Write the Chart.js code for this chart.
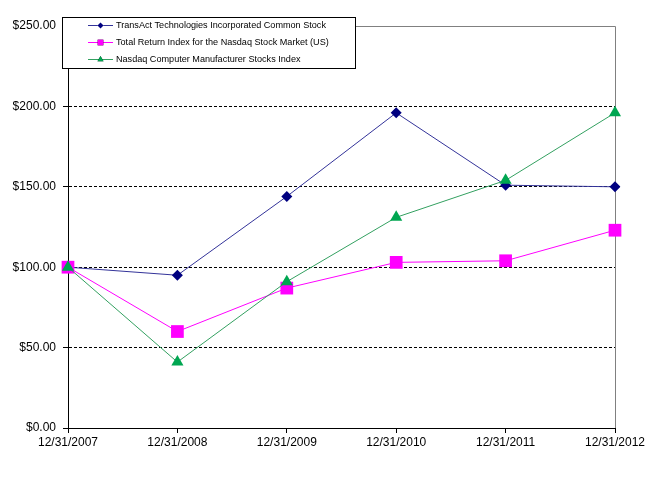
<!DOCTYPE html>
<html>
<head>
<meta charset="utf-8">
<script src="https://cdn.jsdelivr.net/npm/chart.js@4/dist/chart.umd.min.js"></script>
<style>
  html, body { margin: 0; padding: 0; background: #fff; }
  #chart-box { width: 659px; height: 479px; }
</style>
</head>
<body>
<div id="chart-box"><canvas id="return-chart"></canvas></div>
<script>
//The data
var yearLabels = ["12/31/2007", "12/31/2008", "12/31/2009", "12/31/2010", "12/31/2011", "12/31/2012"];
var transactValues = [100, 95, 144, 196, 151, 150];
var nasdaqMarketValues = [100, 60, 87, 103, 104, 123];
var computerMfgValues = [100, 41, 91, 131, 154, 196];
var yTicks = [0, 50, 100, 150, 200, 250];

var seriesNames = [
  "TransAct Technologies Incorporated Common Stock",
  "Total Return Index for the Nasdaq Stock Market (US)",
  "Nasdaq Computer Manufacturer Stocks Index"
];

//Start: gray frame on top and right of the plot area
var frameLines = {
  id: 'frameLines',
  beforeDatasetsDraw: function (chart) {
    var ctx = chart.ctx, a = chart.chartArea;
    ctx.save();
    ctx.strokeStyle = "#808080";
    ctx.lineWidth = 1;
    ctx.beginPath();
    ctx.moveTo(a.left, Math.round(a.top) + 0.5);
    ctx.lineTo(Math.round(a.right) + 0.5, Math.round(a.top) + 0.5);
    ctx.lineTo(Math.round(a.right) + 0.5, a.bottom);
    ctx.stroke();
    ctx.restore();
  }
};

//Start: the boxed legend sitting over the top-left of the plot
var boxLegend = {
  id: 'boxLegend',
  afterDraw: function (chart) {
    var ctx = chart.ctx;
    var bx = 62, by = 17, bw = 293, bh = 51;
    ctx.save();
    ctx.fillStyle = "#fff";
    ctx.fillRect(bx, by, bw, bh);
    ctx.strokeStyle = "#000";
    ctx.lineWidth = 1;
    ctx.strokeRect(bx + 0.5, by + 0.5, bw, bh);
    ctx.font = "9.1px 'Liberation Sans', Arial, sans-serif";
    ctx.textBaseline = "middle";
    chart.data.datasets.forEach(function (ds, i) {
      var y = by + 8.5 + i * 17;
      ctx.strokeStyle = ds.borderColor;
      ctx.lineWidth = 1;
      ctx.beginPath();
      ctx.moveTo(88, y);
      ctx.lineTo(113, y);
      ctx.stroke();
      Chart.helpers.drawPoint(ctx, {pointStyle: ds.pointStyle, radius: ds.legendRadius, borderWidth: 0}, 100.5, y);
      ctx.fillStyle = ds.pointBackgroundColor;
      ctx.fill();
      ctx.fillStyle = "#000";
      ctx.fillText(ds.label, 116, y);
    });
    ctx.restore();
  }
};

var $returnChart = document.getElementById('return-chart');

var dataReturnChart = {
  labels: yearLabels,
  datasets: [
    {
      label: seriesNames[0],
      data: transactValues,
      borderColor: "#333399",
      borderWidth: 1,
      pointStyle: 'rectRot',
      pointRadius: 5.5,
      legendRadius: 3,
      pointBackgroundColor: "#000080",
      pointBorderColor: "#000080",
      pointBorderWidth: 0,
      order: 2
    },
    {
      label: seriesNames[1],
      data: nasdaqMarketValues,
      borderColor: "#FF00FF",
      borderWidth: 1,
      pointStyle: 'rect',
      pointRadius: 9,
      legendRadius: 4,
      pointBackgroundColor: "#FF00FF",
      pointBorderColor: "#FF00FF",
      pointBorderWidth: 0,
      order: 1
    },
    {
      label: seriesNames[2],
      data: computerMfgValues,
      borderColor: "#33A060",
      borderWidth: 1,
      pointStyle: 'triangle',
      pointRadius: 7,
      legendRadius: 3.5,
      pointBackgroundColor: "#00A651",
      pointBorderColor: "#00A651",
      pointBorderWidth: 0,
      order: 0
    }
  ]
};

var myReturnChart = new Chart($returnChart, {
  type: 'line',
  data: dataReturnChart,
  plugins: [frameLines, boxLegend],
  options: {
    responsive: true,
    maintainAspectRatio: false,
    animation: false,
    lineTension: 0,
    layout: { padding: { top: 26, right: 44, left: 0, bottom: 0 } },
    plugins: {
      legend: { display: false },
      tooltip: { enabled: false }
    },
    scales: {
      x: {
        offset: false,
        afterFit: function (scale) { scale.height = 51; },
        grid: {
          drawOnChartArea: false,
          drawTicks: true,
          tickLength: 5,
          tickColor: "#000"
        },
        border: { color: "#000", width: 1 },
        ticks: {
          color: "#000",
          padding: 2,
          maxRotation: 0,
          autoSkip: false,
          font: { family: "'Liberation Sans', Arial, sans-serif", size: 12 }
        }
      },
      y: {
        min: 0,
        max: 250,
        afterFit: function (scale) { scale.width = 68; },
        afterBuildTicks: function (scale) {
          scale.ticks = yTicks.map(function (v) { return { value: v }; });
        },
        grid: {
          color: function (c) {
            return (c.tick && (c.tick.value === 0 || c.tick.value === 250)) ? 'rgba(0,0,0,0)' : '#000';
          },
          lineWidth: 1,
          drawTicks: true,
          tickLength: 5,
          tickColor: "#000",
          tickBorderDash: []
        },
        border: { color: "#000", width: 1, dash: [3, 2] },
        ticks: {
          color: "#000",
          padding: 7,
          font: { family: "'Liberation Sans', Arial, sans-serif", size: 12 },
          callback: function (v) { return '$' + Number(v).toFixed(2); }
        }
      }
    }
  }
});
//End: the return chart
</script>
</body>
</html>
